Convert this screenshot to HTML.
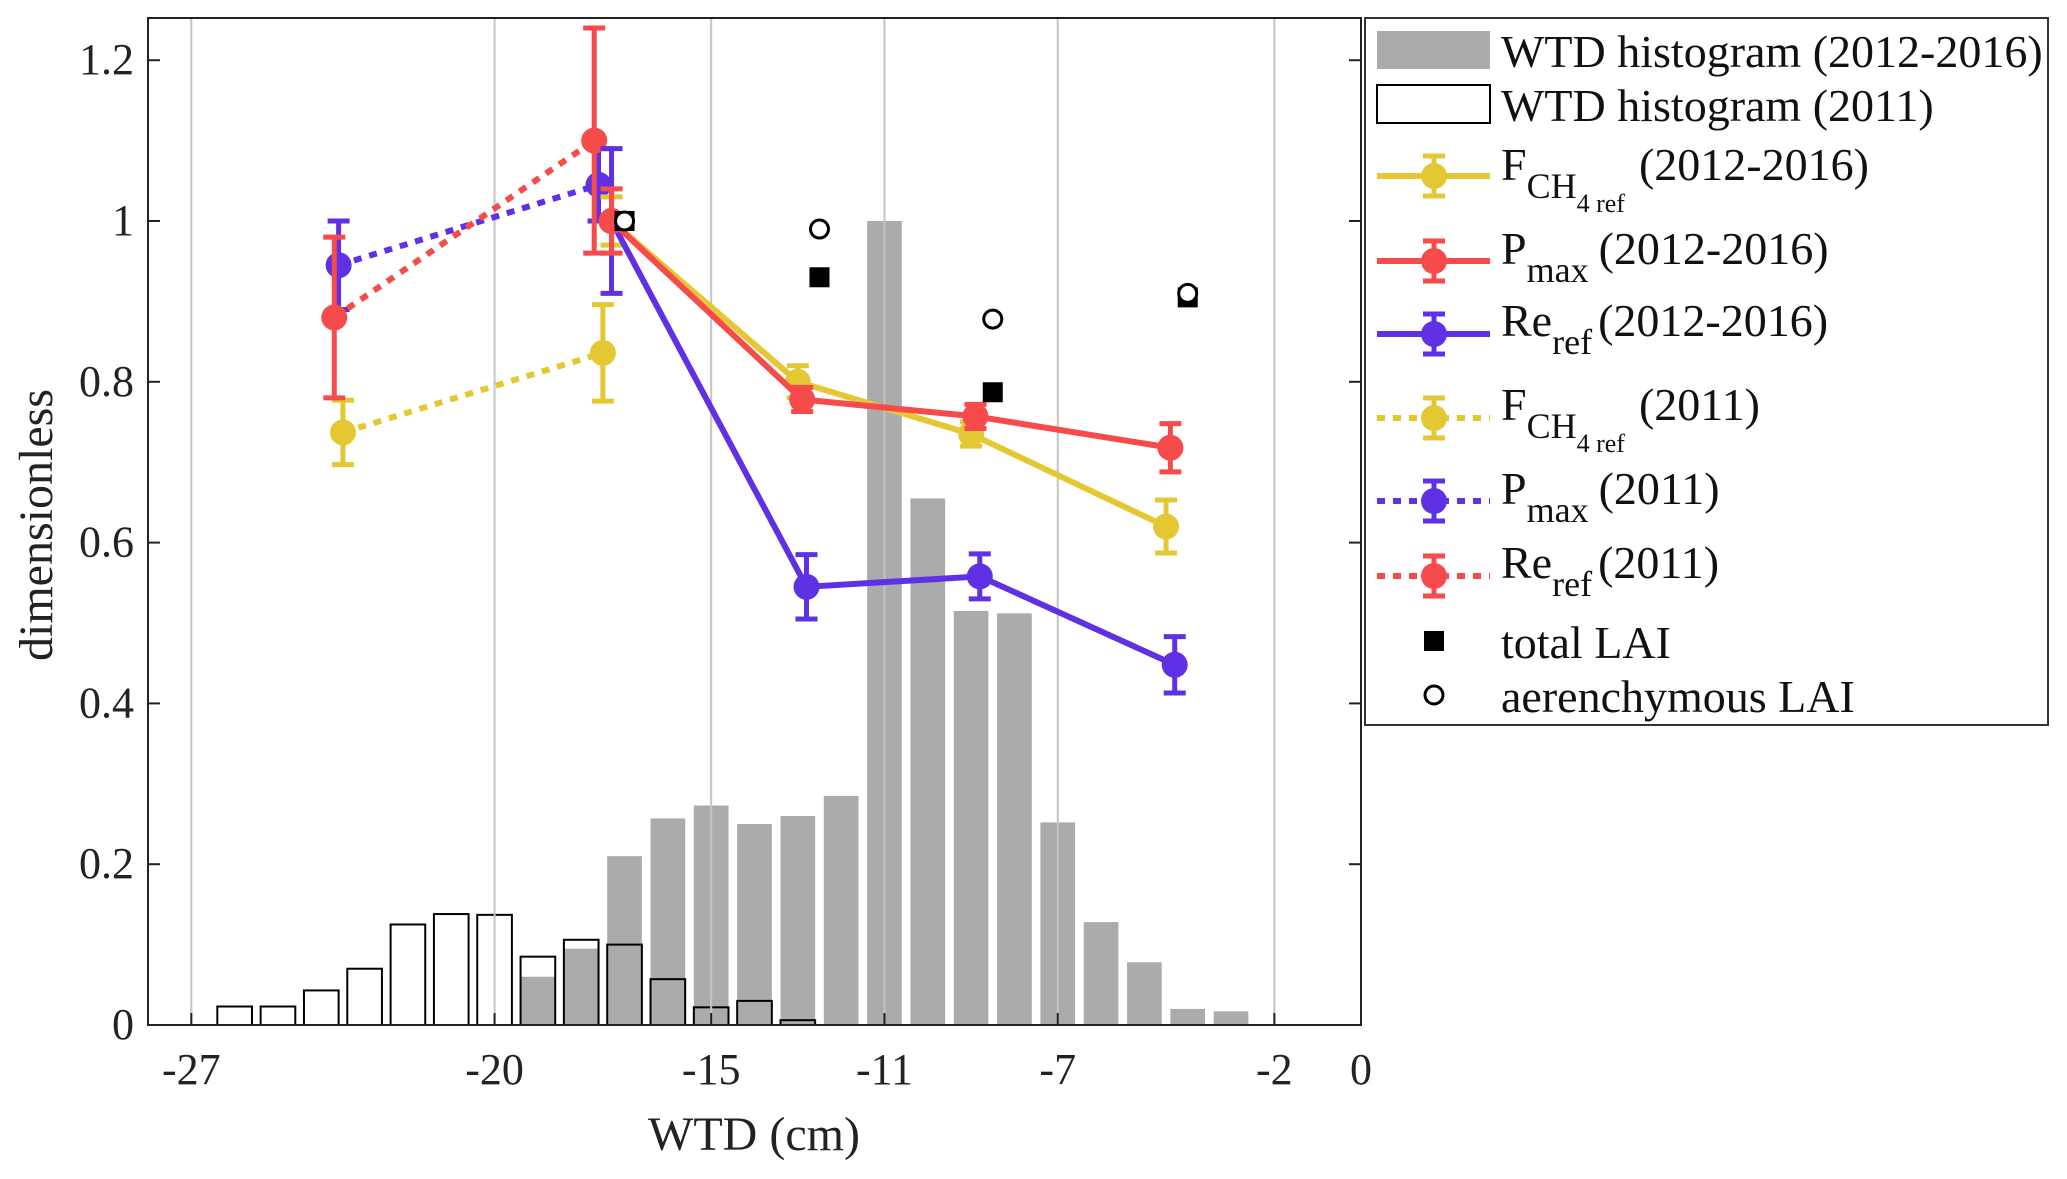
<!DOCTYPE html>
<html><head><meta charset="utf-8"><style>
html,body{margin:0;padding:0;background:#fff}
svg, svg text, svg tspan{font-family:"Liberation Serif","Times New Roman",serif}
</style></head><body>
<svg id="chart" width="2067" height="1174" viewBox="0 0 2067 1174" font-family="Liberation Serif, serif">
<g id="plot"></g>
<g id="legend"></g>
</svg>
<script>
const histBins2012 = [-19,-18,-17,-16,-15,-14,-13,-12,-11,-10,-9,-8,-7,-6,-5,-4,-3];
const histVals2012 = [0.06,0.095,0.21,0.257,0.273,0.25,0.26,0.285,1.0,0.655,0.515,0.512,0.252,0.128,0.078,0.02,0.017];
const histBins2011 = [-26,-25,-24,-23,-22,-21,-20,-19,-18,-17,-16,-15,-14,-13];
const histVals2011 = [0.023,0.023,0.043,0.07,0.125,0.138,0.137,0.085,0.106,0.1,0.057,0.022,0.03,0.006];
const xTicks = [-27,-20,-15,-11,-7,-2,0];
const yTicks = [0,0.2,0.4,0.6,0.8,1,1.2];
const fchX = [-17.3,-13.0,-9.0,-4.5];  const fchY = [1.0,0.80,0.735,0.62];  const fchE = [0.03,0.02,0.015,0.033];
const pmaxX = [-17.3,-12.9,-8.9,-4.4]; const pmaxY = [1.0,0.778,0.757,0.718]; const pmaxE = [0.04,0.015,0.015,0.03];
const reX = [-17.3,-12.8,-8.8,-4.3];   const reY = [1.0,0.545,0.558,0.448]; const reE = [0.09,0.04,0.028,0.035];
const fch11X = [-23.5,-17.5]; const fch11Y = [0.737,0.836]; const fch11E = [0.04,0.06];
const pmax11X = [-23.6,-17.6]; const pmax11Y = [0.945,1.045]; const pmax11E = [0.055,0.045];
const re11X = [-23.7,-17.7]; const re11Y = [0.88,1.1]; const re11E = [0.1,0.14];
const laiX = [-17.0,-12.5,-8.5,-4.0];
const laiTotal = [1.0,0.93,0.787,0.905];
const laiAer = [1.0,0.99,0.878,0.91];

const L=148,R=1361,T=18,B=1025, XMIN=-28,XMAX=0,YMIN=0,YMAX=1.2525;
const sx=v=>L+(v-XMIN)/(XMAX-XMIN)*(R-L);
const sy=v=>B-(v-YMIN)/(YMAX-YMIN)*(B-T);
const NS="http://www.w3.org/2000/svg";
const FF='"Liberation Serif","Times New Roman",serif';
const plot=document.getElementById('plot'), leg=document.getElementById('legend');
function mk(p,tag,at,txt){const e=document.createElementNS(NS,tag);for(const k in at)e.setAttribute(k,at[k]);if(tag==='text')e.style.fontFamily=FF;if(txt!==undefined)e.textContent=txt;p.appendChild(e);return e;}
const YEL="#e3c834",RED="#f74a4a",BLU="#5f30e4";

histBins2012.forEach((b,i)=>{
  const r=mk(plot,'rect',{x:sx(b-0.4),y:sy(histVals2012[i]),width:sx(b+0.4)-sx(b-0.4),height:B-sy(histVals2012[i]),fill:"#ababab"});
  
  
});
histBins2011.forEach((b,i)=>{
  const r=mk(plot,'rect',{x:sx(b-0.4),y:sy(histVals2011[i]),width:sx(b+0.4)-sx(b-0.4),height:B-sy(histVals2011[i]),fill:"none",stroke:"#000","stroke-width":2});
  
  
});
xTicks.forEach(t=>{ if(t===0) return;
  const g=mk(plot,'line',{x1:sx(t),x2:sx(t),y1:T,y2:B,stroke:"#c4c4c4","stroke-width":2});
  
  
});
const box=mk(plot,'rect',{x:L,y:T,width:R-L,height:B-T,fill:"none",stroke:"#222","stroke-width":2});


xTicks.forEach(t=>{
  mk(plot,'line',{x1:sx(t),x2:sx(t),y1:B,y2:B-12,stroke:"#222","stroke-width":2});
  const tx=mk(plot,'text',{x:sx(t),y:B+59,"text-anchor":"middle","font-size":44,fill:"#222"},String(t));
  
  
});
yTicks.forEach(t=>{
  mk(plot,'line',{x1:L,x2:L+12,y1:sy(t),y2:sy(t),stroke:"#222","stroke-width":2});
  mk(plot,'line',{x1:R,x2:R-12,y1:sy(t),y2:sy(t),stroke:"#222","stroke-width":2});
  const tx=mk(plot,'text',{x:L-14,y:sy(t)+14,"text-anchor":"end","font-size":44,fill:"#222"},String(t));
  
  
});
const xl=mk(plot,'text',{x:754,y:1150,"text-anchor":"middle","font-size":48,fill:"#222"},"WTD (cm)");


const yl=mk(plot,'text',{x:0,y:0,"text-anchor":"middle","font-size":48,fill:"#222",transform:"translate(52,525) rotate(-90)"},"dimensionless");



function series(xs,ys,es,col,dotted,name){
  const g=mk(plot,'g',{});
  
  
  const pts=xs.map((x,i)=>sx(x)+","+sy(ys[i])).join(" ");
  const at={points:pts,fill:"none",stroke:col,"stroke-width":6};
  if(dotted) at["stroke-dasharray"]="8 8";
  mk(g,'polyline',at);
  xs.forEach((x,i)=>{
    const cx=sx(x),t=sy(ys[i]+es[i]),b=sy(ys[i]-es[i]);
    mk(g,'line',{x1:cx,x2:cx,y1:t,y2:b,stroke:col,"stroke-width":5});
    mk(g,'line',{x1:cx-11,x2:cx+11,y1:t,y2:t,stroke:col,"stroke-width":5});
    mk(g,'line',{x1:cx-11,x2:cx+11,y1:b,y2:b,stroke:col,"stroke-width":5});
    mk(g,'circle',{cx:cx,cy:sy(ys[i]),r:13,fill:col});
  });
}
series(fch11X,fch11Y,fch11E,YEL,true,'fch4-2011-series');
series(pmax11X,pmax11Y,pmax11E,BLU,true,'pmax-2011-series');
series(re11X,re11Y,re11E,RED,true,'reref-2011-series');
series(fchX,fchY,fchE,YEL,false,'fch4-2012-2016-series');
series(reX,reY,reE,BLU,false,'reref-2012-2016-series');
series(pmaxX,pmaxY,pmaxE,RED,false,'pmax-2012-2016-series');
laiX.forEach((x,i)=>{
  const s=mk(plot,'rect',{x:sx(x)-10,y:sy(laiTotal[i])-10,width:20,height:20,fill:"#000"});
  
  
  const c=mk(plot,'circle',{cx:sx(x),cy:sy(laiAer[i]),r:9,fill:"#fff",stroke:"#000","stroke-width":3});
  
  
});

const lb=mk(leg,'rect',{x:1365,y:18,width:683,height:707,fill:"#fff",stroke:"#333","stroke-width":2});


mk(leg,'rect',{x:1377,y:31,width:113,height:38,fill:"#ababab"});
mk(leg,'rect',{x:1377,y:85,width:113,height:38,fill:"#fff",stroke:"#000","stroke-width":2});
function legText(y,parts){
  const t=mk(leg,'text',{x:1501,y:y,"font-size":46,fill:"#111"});
  
  
  parts.forEach(p=>{mk(t,'tspan',p[1]||{},p[0]);});
  return t;
}
legText(67,[["WTD histogram (2012-2016)"]]);
legText(121,[["WTD histogram (2011)"]]);
function legLine(y,col,dotted){
  const at={x1:1377,x2:1490,y1:y,y2:y,stroke:col,"stroke-width":6};
  if(dotted)at["stroke-dasharray"]="8 8";
  mk(leg,'line',at);
  mk(leg,'line',{x1:1434,x2:1434,y1:y-20,y2:y+20,stroke:col,"stroke-width":5});
  mk(leg,'line',{x1:1423,x2:1445,y1:y-20,y2:y-20,stroke:col,"stroke-width":5});
  mk(leg,'line',{x1:1423,x2:1445,y1:y+20,y2:y+20,stroke:col,"stroke-width":5});
  mk(leg,'circle',{cx:1434,cy:y,r:13,fill:col});
}
legLine(176,YEL,false);
legText(180,[["F"],["CH",{"font-size":36,dy:18}],["4 ref",{"font-size":26,dy:14}],["(2012-2016)",{dx:14,dy:-32}]]);
legLine(261,RED,false);
legText(264,[["P"],["max",{"font-size":36,dy:18}],["(2012-2016)",{dx:10,dy:-18}]]);
legLine(334,BLU,false);
legText(336,[["Re"],["ref",{"font-size":36,dy:18}],["(2012-2016)",{dx:6,dy:-18}]]);
legLine(418,YEL,true);
legText(420,[["F"],["CH",{"font-size":36,dy:18}],["4 ref",{"font-size":26,dy:14}],["(2011)",{dx:14,dy:-32}]]);
legLine(501,BLU,true);
legText(504,[["P"],["max",{"font-size":36,dy:18}],["(2011)",{dx:10,dy:-18}]]);
legLine(576,RED,true);
legText(578,[["Re"],["ref",{"font-size":36,dy:18}],["(2011)",{dx:6,dy:-18}]]);
mk(leg,'rect',{x:1424,y:631,width:20,height:20,fill:"#000"});
legText(658,[["total LAI"]]);
mk(leg,'circle',{cx:1434,cy:695,r:9,fill:"#fff",stroke:"#000","stroke-width":3});
legText(712,[["aerenchymous LAI"]]);
</script>
</body></html>
